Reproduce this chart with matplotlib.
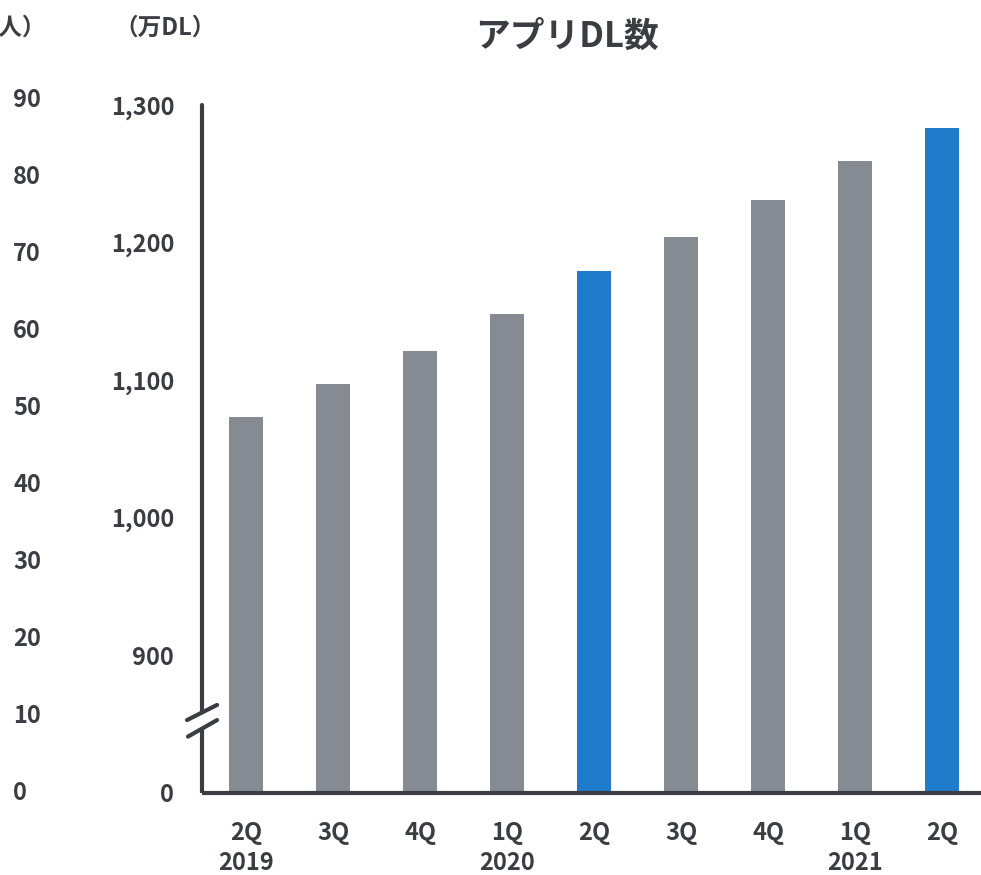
import matplotlib.pyplot as plt
from matplotlib.transforms import blended_transform_factory

plt.rcParams['font.family'] = ['Noto Sans CJK JP', 'DejaVu Sans']
plt.rcParams['font.weight'] = 'bold'

# data
quarters = ['2Q\n2019', '3Q', '4Q', '1Q\n2020', '2Q', '3Q', '4Q', '1Q\n2021', '2Q']
downloads = [1073, 1097, 1121, 1148, 1179, 1204, 1231, 1259, 1283]
highlight = [False, False, False, False, True, False, False, False, True]
dl_ticks = [800, 900, 1000, 1100, 1200, 1300]
dl_tick_labels = ['0', '900', '1,000', '1,100', '1,200', '1,300']
user_ticks = [0, 10, 20, 30, 40, 50, 60, 70, 80, 90]

text_col = '#3a3d42'
gray = '#858a93'
blue = '#1f7bcc'
fsize = 17

fig = plt.figure(figsize=(9.81, 8.75), dpi=100)
W, H = 981, 875

# main axes (pixel based layout)
ax = fig.add_axes([202 / W, (H - 793) / H, (W - 202) / W, (793 - 105) / H])
x = list(range(len(quarters)))
colors = [blue if h else gray for h in highlight]
ax.bar(x, downloads, width=0.4, color=colors, bottom=0)
ax.set_ylim(800, 1300)
ax.set_xlim(-0.506, 8.448)

ax.set_yticks(dl_ticks)
ax.set_yticklabels(dl_tick_labels)
ax.set_xticks(x)
ax.set_xticklabels(quarters, linespacing=1.35)
ax.tick_params(axis='y', length=0, pad=20, labelsize=fsize, labelcolor=text_col)
ax.tick_params(axis='x', length=0, pad=20, labelsize=fsize, labelcolor=text_col)

for s in ['top', 'right', 'left']:
    ax.spines[s].set_visible(False)
ax.spines['bottom'].set_color(text_col)
ax.spines['bottom'].set_linewidth(3)
ax.spines['bottom'].set_capstyle('butt')

# broken y axis line
tr = blended_transform_factory(ax.transAxes, ax.transData)
ax.plot([0, 0], [800, 847], color=text_col, lw=3, transform=tr, clip_on=False,
        solid_capstyle='butt')
ax.plot([0, 0], [859, 1300], color=text_col, lw=3, transform=tr, clip_on=False,
        solid_capstyle='round')
# break marks
ax.plot([-0.678, -0.333], [853, 864], color=text_col, lw=3, clip_on=False,
        solid_capstyle='round')
ax.plot([-0.667, -0.333], [841, 853], color=text_col, lw=3, clip_on=False,
        solid_capstyle='round')

# left-hand scale
ax2 = fig.add_axes([13 / W, (H - 793) / H, 0.05, (793 - 100) / H])
ax2.set_ylim(0, 90)
ax2.axis('off')
for v in user_ticks:
    ax2.text(0, v, str(v), ha='left', va='center', fontsize=fsize,
             color=text_col, fontweight='bold',
             transform=blended_transform_factory(ax2.transAxes, ax2.transData))

# unit labels and title
fig.text(46 / W, 1 - 28 / H, '（万人）', ha='right', va='center', fontsize=fsize,
         color=text_col, fontweight='bold')
fig.text(216 / W, 1 - 28 / H, '（万DL）', ha='right', va='center', fontsize=fsize,
         color=text_col, fontweight='bold')
fig.text(567 / W, 1 - 36 / H, 'アプリDL数', ha='center', va='center', fontsize=25,
         color=text_col, fontweight='bold')

plt.savefig('out.png', dpi=100)
